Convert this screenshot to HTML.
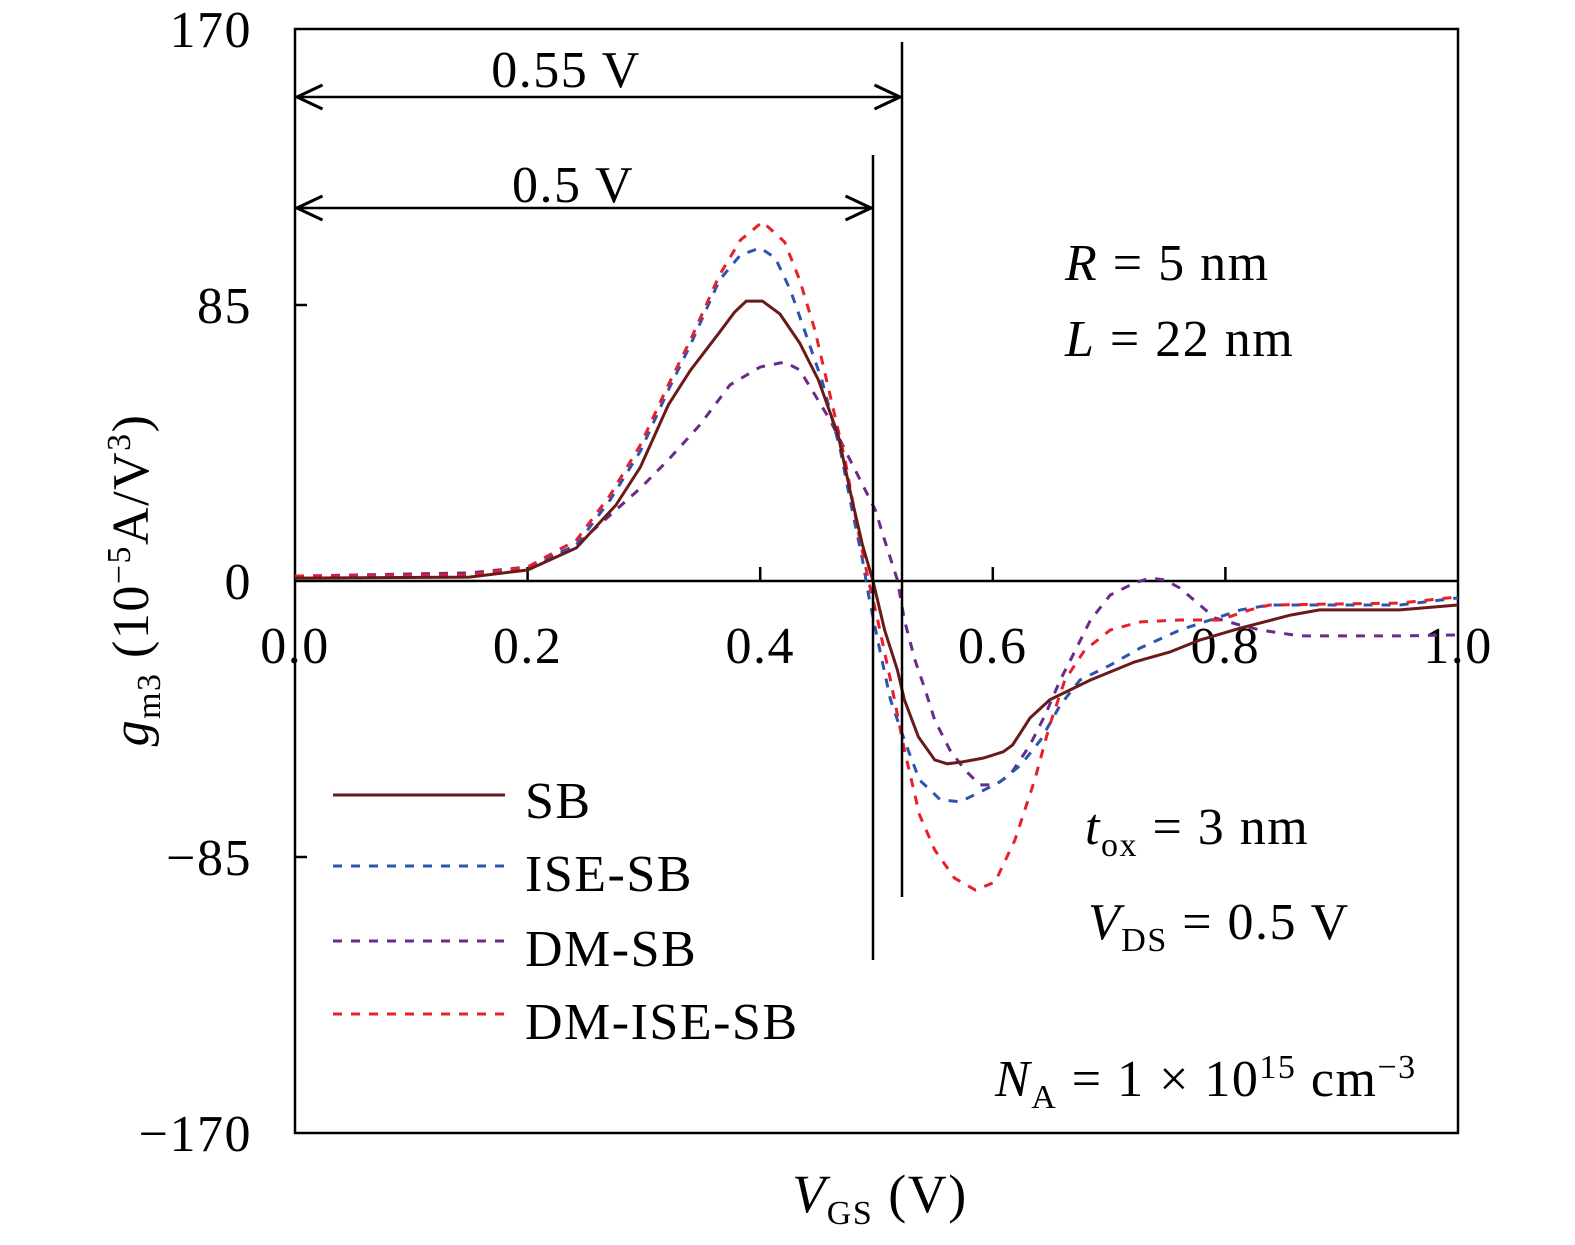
<!DOCTYPE html>
<html><head><meta charset="utf-8"><style>
html,body{margin:0;padding:0;background:#fff;overflow:hidden;}
svg{display:block;font-family:"Liberation Serif",serif;}
text{letter-spacing:1.5px;}
</style></head><body>
<svg id="chart" width="1575" height="1245" viewBox="0 0 1575 1245" xmlns="http://www.w3.org/2000/svg">
<defs>
<marker id="arr" viewBox="0 0 20 20" refX="19" refY="10" markerWidth="30" markerHeight="30" markerUnits="userSpaceOnUse" orient="auto-start-reverse">
<path d="M2,2 L19,10 L2,18" fill="none" stroke="#000" stroke-width="2"/>
</marker>
</defs>
<rect x="295" y="29" width="1163" height="1104" fill="none" stroke="#000" stroke-width="2.5"/>
<g id="ticks"></g>
<g id="series"></g>
<g>
<line x1="873" y1="155" x2="873" y2="960" stroke="#000" stroke-width="2.5"/>
<line x1="902" y1="42" x2="902" y2="897" stroke="#000" stroke-width="2.5"/>
<line x1="297" y1="97" x2="900" y2="97" stroke="#000" stroke-width="2.5" marker-start="url(#arr)" marker-end="url(#arr)"/>
<line x1="297" y1="208" x2="871" y2="208" stroke="#000" stroke-width="2.5" marker-start="url(#arr)" marker-end="url(#arr)"/>
<text x="566" y="87" font-size="52" text-anchor="middle">0.55 V</text>
<text x="573" y="202" font-size="52" text-anchor="middle">0.5 V</text>
<text x="1065" y="280" font-size="52"><tspan font-style="italic">R</tspan> = 5 nm</text>
<text x="1065" y="356" font-size="52"><tspan font-style="italic">L</tspan> = 22 nm</text>
<text x="1085" y="844" font-size="52"><tspan font-style="italic">t</tspan><tspan font-size="34" dy="12">ox</tspan><tspan dy="-12"> = 3 nm</tspan></text>
<text x="1088" y="939" font-size="52"><tspan font-style="italic">V</tspan><tspan font-size="34" dy="12">DS</tspan><tspan dy="-12"> =  0.5 V</tspan></text>
<text x="995" y="1096" font-size="52"><tspan font-style="italic">N</tspan><tspan font-size="34" dy="12">A</tspan><tspan dy="-12"> =  1 × 10</tspan><tspan font-size="34" dy="-18">15</tspan><tspan dy="18"> cm</tspan><tspan font-size="34" dy="-18">−3</tspan></text>
</g>
<text x="880" y="1212" font-size="54" text-anchor="middle"><tspan font-style="italic">V</tspan><tspan font-size="34" dy="12">GS</tspan><tspan dy="-12"> (V)</tspan></text>
<text transform="translate(148,580) rotate(-90)" font-size="52" text-anchor="middle"><tspan font-style="italic">g</tspan><tspan font-size="34" dy="12">m3</tspan><tspan dy="-12"> (10</tspan><tspan font-size="34" dy="-18">−5</tspan><tspan dy="18">A/V</tspan><tspan font-size="34" dy="-18">3</tspan><tspan dy="18">)</tspan></text>
<g>
<line x1="333" y1="795" x2="505" y2="795" stroke="#6b1a1a" stroke-width="3"/>
<text x="525" y="818" font-size="52">SB</text>
<line x1="333" y1="866" x2="505" y2="866" stroke="#2c55b0" stroke-width="3" stroke-dasharray="9,9"/>
<text x="525" y="891" font-size="52">ISE-SB</text>
<line x1="333" y1="941" x2="505" y2="941" stroke="#6a2a8a" stroke-width="3" stroke-dasharray="9,9"/>
<text x="525" y="966" font-size="52">DM-SB</text>
<line x1="333" y1="1014" x2="505" y2="1014" stroke="#e8202a" stroke-width="3" stroke-dasharray="9,9"/>
<text x="525" y="1039" font-size="52">DM-ISE-SB</text>
</g>
</svg>
<script>
const xTicks = [0.0, 0.2, 0.4, 0.6, 0.8, 1.0];
const xTickLabels = ["0.0", "0.2", "0.4", "0.6", "0.8", "1.0"];
const yTicks = [170, 85, 0, -85, -170];
const yTickLabels = ["170", "85", "0", "−85", "−170"];

const sbX = [0,0.15,0.2,0.242,0.276,0.297,0.321,0.34,0.365,0.378,0.388,0.402,0.417,0.434,0.45,0.467,0.479,0.488,0.497,0.507,0.518,0.524,0.536,0.55,0.561,0.574,0.592,0.609,0.617,0.632,0.649,0.684,0.722,0.752,0.778,0.813,0.856,0.881,0.95,1.0];
const sbY = [0.9,1.2,3.4,10.2,23.4,35.1,54.2,64.9,76.6,82.8,86.2,86.2,82.2,73.3,61.9,45.0,24.9,11.1,0,-15.1,-27.4,-36.6,-48.0,-55.1,-56.3,-55.7,-54.5,-52.6,-50.5,-42.2,-36.6,-30.5,-24.9,-21.9,-18.2,-14.5,-10.5,-8.9,-8.9,-7.4];

const iseX = [0,0.15,0.2,0.242,0.271,0.297,0.321,0.34,0.365,0.383,0.4,0.413,0.426,0.438,0.453,0.469,0.479,0.488,0.494,0.501,0.512,0.524,0.537,0.555,0.572,0.589,0.606,0.624,0.641,0.658,0.675,0.701,0.727,0.761,0.787,0.813,0.838,0.95,1.0];
const iseY = [1.2,1.8,3.4,11.1,25,40,58.8,72.7,92.7,100.4,102.6,99.5,89.6,77.3,61.9,40.3,21.9,6.5,-5.9,-18.2,-36.6,-49,-61.3,-67.4,-68,-65,-61.9,-56.7,-49,-38.2,-30.5,-25.9,-20.6,-15.1,-12,-8.9,-7.4,-7.4,-5.2];

const dmX = [0,0.15,0.2,0.242,0.271,0.297,0.321,0.348,0.374,0.4,0.421,0.434,0.447,0.46,0.473,0.486,0.499,0.507,0.518,0.524,0.533,0.542,0.55,0.563,0.576,0.589,0.602,0.615,0.632,0.645,0.658,0.671,0.684,0.701,0.722,0.735,0.748,0.761,0.778,0.791,0.813,0.83,0.864,0.95,1.0];
const dmY = [1.5,2.5,4.3,11.1,20.3,28.6,37.3,48,60.4,65.9,67.4,65,57.3,49.6,40.3,31.1,21.9,12.6,0.3,-12,-24.3,-33.6,-42.8,-52,-58.2,-62.8,-62.8,-59.7,-50.5,-41.3,-30.5,-21.3,-12,-4.3,-0.6,0.9,0.3,-2.2,-7.4,-11.4,-13.6,-15.1,-16.9,-16.9,-16.6];

const dmiseX = [0,0.15,0.2,0.242,0.271,0.297,0.321,0.34,0.365,0.383,0.402,0.421,0.434,0.447,0.46,0.473,0.484,0.493,0.501,0.512,0.524,0.537,0.55,0.567,0.585,0.602,0.619,0.636,0.649,0.662,0.679,0.701,0.727,0.761,0.795,0.821,0.838,0.95,1.0];
const dmiseY = [1.5,1.8,4.3,12.6,26.5,41.9,60.4,74.2,94.2,105,110.6,104.4,92.7,77.3,57.3,37.3,15.7,0.3,-12,-30.5,-52,-72,-82.8,-91.5,-95.2,-92.7,-79.8,-61.3,-44.3,-30.5,-21.3,-15.1,-12.6,-12,-12,-8.9,-7.4,-6.8,-4.9];

const NS = "http://www.w3.org/2000/svg";
const X0 = 295, X1 = 1458, Y0 = 581, PXU = 552 / 170;
function sx(v) { return X0 + (X1 - X0) * v; }
function sy(v) { return Y0 - v * PXU; }

const tg = document.getElementById("ticks");
const zl = document.createElementNS(NS, "line");


zl.setAttribute("x1", X0); zl.setAttribute("x2", X1);
zl.setAttribute("y1", sy(0)); zl.setAttribute("y2", sy(0));
zl.setAttribute("stroke", "#000"); zl.setAttribute("stroke-width", "2.5");
tg.appendChild(zl);

xTicks.forEach((t, i) => {
  if (i > 0 && i < xTicks.length - 1) {
    const l = document.createElementNS(NS, "line");
    
    
    l.setAttribute("x1", sx(t)); l.setAttribute("x2", sx(t));
    l.setAttribute("y1", sy(0)); l.setAttribute("y2", sy(0) - 14);
    l.setAttribute("stroke", "#000"); l.setAttribute("stroke-width", "2.5");
    tg.appendChild(l);
  }
  const tx = document.createElementNS(NS, "text");
  
  
  tx.setAttribute("x", sx(t)); tx.setAttribute("y", sy(0) + 82);
  tx.setAttribute("font-size", "52"); tx.setAttribute("text-anchor", "middle");
  tx.textContent = xTickLabels[i];
  tg.appendChild(tx);
});
yTicks.forEach((t, i) => {
  if (t !== 0 && Math.abs(t) !== 170) {
    const l = document.createElementNS(NS, "line");
    
    
    l.setAttribute("x1", X0); l.setAttribute("x2", X0 + 12);
    l.setAttribute("y1", sy(t)); l.setAttribute("y2", sy(t));
    l.setAttribute("stroke", "#000"); l.setAttribute("stroke-width", "2.5");
    tg.appendChild(l);
  }
  const tx = document.createElementNS(NS, "text");
  
  
  tx.setAttribute("x", 252); tx.setAttribute("y", sy(t) + 18);
  tx.setAttribute("font-size", "52"); tx.setAttribute("text-anchor", "end");
  tx.textContent = yTickLabels[i];
  tg.appendChild(tx);
});

const sg = document.getElementById("series");
function drawSeries(xs, ys, color, dash, name) {
  const p = document.createElementNS(NS, "polyline");
  
  
  p.setAttribute("points", xs.map((x, i) => sx(x).toFixed(1) + "," + sy(ys[i]).toFixed(1)).join(" "));
  p.setAttribute("fill", "none");
  p.setAttribute("stroke", color);
  p.setAttribute("stroke-width", "3");
  if (dash) p.setAttribute("stroke-dasharray", dash);
  sg.appendChild(p);
}
drawSeries(dmX, dmY, "#6a2a8a", "9,9", "series-dm-sb");
drawSeries(iseX, iseY, "#2c55b0", "9,9", "series-ise-sb");
drawSeries(dmiseX, dmiseY, "#e8202a", "9,9", "series-dm-ise-sb");
drawSeries(sbX, sbY, "#6b1a1a", null, "series-sb");
</script>
</body></html>
